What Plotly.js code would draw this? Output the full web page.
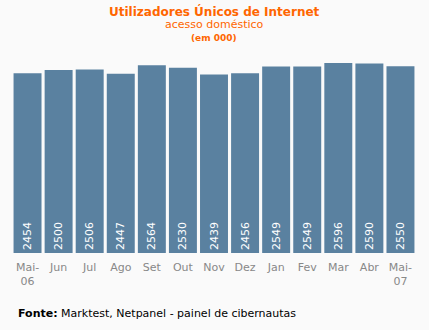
<!DOCTYPE html>
<html>
<head>
<meta charset="utf-8">
<script src="https://cdn.plot.ly/plotly-3.0.1.min.js"></script>
<style>html,body{margin:0;padding:0;background:#fafafa;}</style>
</head>
<body>
<div id="chart" style="width:429px;height:330px;"></div>
<script>
const categories = ["Mai-<br>06","Jun","Jul","Ago","Set","Out","Nov","Dez","Jan","Fev","Mar","Abr","Mai-<br>07"];
const values = [2454,2500,2506,2447,2564,2530,2439,2456,2549,2549,2596,2590,2550];

const trace = {
  type: 'bar',
  x: categories,
  y: values,
  marker: {color: '#5a81a0'},
  text: values.map(String),
  textposition: 'inside',
  insidetextanchor: 'start',
  textangle: -90,
  textfont: {family: 'DejaVu Sans', size: 11, color: '#ffffff'},
  hoverinfo: 'none'
};

const layout = {
  width: 429, height: 330,
  paper_bgcolor: '#fafafa', plot_bgcolor: '#fafafa',
  margin: {l: 11.5, r: 12.5, t: 48, b: 77},
  bargap: 0.1,
  showlegend: false,
  xaxis: {
    type: 'category',
    tickfont: {family: 'DejaVu Sans', size: 11, color: '#888888'},
    ticklabelstandoff: 6,
    showline: false, ticks: '', showgrid: false, zeroline: false
  },
  yaxis: {range: [0, 2800], visible: false, showgrid: false, zeroline: false},
  annotations: [
    {text: '<b>Utilizadores Únicos de Internet</b>', x: 0.5, y: 11, xref: 'paper', yref: 'paper', showarrow: false,
     font: {family: 'DejaVu Sans', size: 12, color: '#ff6600'}},
    {text: 'acesso doméstico', x: 0.5, y: 0, xref: 'paper', yref: 'paper', showarrow: false,
     font: {family: 'DejaVu Sans', size: 11, color: '#ff6600'}},
    {text: '<b>(em 000)</b>', x: 0.5, y: 0, xref: 'paper', yref: 'paper', showarrow: false,
     font: {family: 'DejaVu Sans', size: 9, color: '#ff6600'}},
    {text: '<b>Fonte:</b> Marktest, Netpanel - painel de cibernautas', x: 0, y: 0, xref: 'paper', yref: 'paper', showarrow: false,
     xanchor: 'left', font: {family: 'DejaVu Sans', size: 11, color: '#000000'}}
  ]
};
const plotTop = 48, plotH = 330 - 48 - 77, plotL = 11.5, plotW = 429 - 11.5 - 12.5;
function py(pix){ return (330 - 77 - pix) / plotH; }
function px(pix){ return (pix - plotL) / plotW; }
layout.annotations[0].y = py(11); layout.annotations[0].yanchor = 'middle';
layout.annotations[1].y = py(25); layout.annotations[1].yanchor = 'middle';
layout.annotations[2].y = py(38); layout.annotations[2].yanchor = 'middle';
layout.annotations[3].y = py(313); layout.annotations[3].yanchor = 'middle';
layout.annotations[3].x = px(16);

Plotly.newPlot('chart', [trace], layout, {displayModeBar: false, staticPlot: true});
</script>
</body>
</html>
